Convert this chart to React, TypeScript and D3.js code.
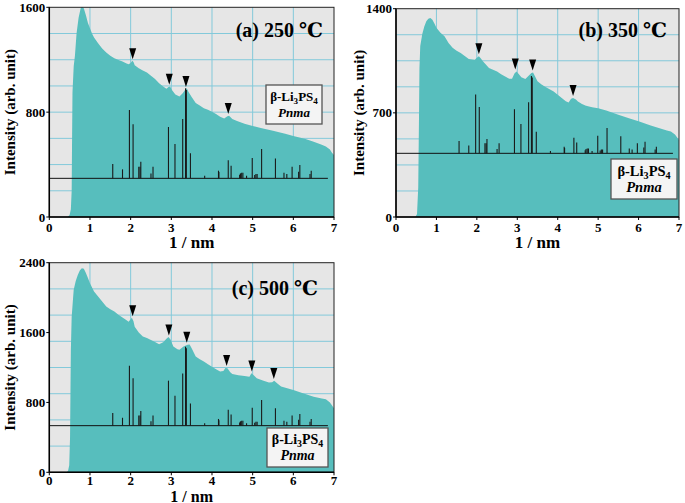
import React from 'react';
import * as d3 from 'd3';

type Pt = [number, number];

const xTicks = [0, 1, 2, 3, 4, 5, 6, 7];

const curveA: Pt[] = [[0,0],[0.45,0],[0.5,15],[0.53,60],[0.55,200],[0.56,600],[0.57,950],[0.6,1150],[0.63,1230],[0.67,1400],[0.72,1520],[0.77,1590],[0.8,1610],[0.85,1590],[0.9,1540],[0.95,1480],[1.0,1440],[1.05,1400],[1.1,1370],[1.2,1325],[1.3,1285],[1.4,1255],[1.5,1230],[1.6,1212],[1.7,1198],[1.8,1186],[1.9,1172],[1.95,1165],[2.0,1175],[2.04,1192],[2.07,1182],[2.1,1158],[2.2,1135],[2.3,1118],[2.4,1102],[2.5,1078],[2.6,1052],[2.7,1020],[2.8,996],[2.88,978],[2.93,992],[2.97,995],[3.02,968],[3.1,935],[3.2,920],[3.28,945],[3.35,975],[3.38,982],[3.42,955],[3.5,915],[3.6,870],[3.7,850],[3.8,830],[3.9,818],[4.0,804],[4.1,785],[4.2,765],[4.3,752],[4.38,768],[4.42,772],[4.5,748],[4.6,735],[4.8,712],[5.0,695],[5.2,680],[5.5,658],[5.8,635],[6.0,618],[6.3,595],[6.5,575],[6.7,552],[6.8,537],[6.9,515],[6.95,490],[7.0,473]];

const curveB: Pt[] = [[0,0],[0.48,0],[0.52,20],[0.55,200],[0.57,700],[0.58,1000],[0.6,1150],[0.65,1230],[0.7,1280],[0.75,1315],[0.8,1332],[0.85,1338],[0.9,1325],[0.95,1300],[1.0,1272],[1.1,1238],[1.2,1214],[1.3,1170],[1.4,1137],[1.5,1118],[1.6,1102],[1.7,1082],[1.8,1062],[1.9,1058],[1.95,1057],[2.0,1070],[2.05,1080],[2.1,1065],[2.15,1046],[2.3,1002],[2.4,990],[2.5,978],[2.6,960],[2.7,945],[2.8,930],[2.87,930],[2.93,965],[2.98,978],[3.03,962],[3.1,940],[3.2,928],[3.28,950],[3.35,968],[3.39,972],[3.45,940],[3.5,912],[3.6,890],[3.7,873],[3.8,858],[3.9,844],[4.0,822],[4.1,800],[4.2,778],[4.27,770],[4.33,795],[4.38,800],[4.45,790],[4.5,777],[4.6,760],[4.7,748],[4.85,738],[5.0,731],[5.2,715],[5.5,688],[5.8,660],[6.0,643],[6.3,615],[6.5,598],[6.7,582],[6.8,574],[6.9,555],[7.0,518]];

const curveC: Pt[] = [[0,0],[0.42,0],[0.46,15],[0.49,80],[0.51,400],[0.52,900],[0.53,1400],[0.55,1780],[0.6,2090],[0.65,2190],[0.7,2260],[0.75,2310],[0.8,2336],[0.85,2330],[0.9,2282],[0.95,2225],[1.0,2165],[1.1,2070],[1.2,2012],[1.3,1955],[1.4,1898],[1.5,1866],[1.6,1842],[1.7,1805],[1.8,1772],[1.9,1740],[1.95,1725],[2.0,1752],[2.03,1770],[2.07,1730],[2.1,1668],[2.2,1600],[2.3,1555],[2.4,1538],[2.5,1515],[2.6,1492],[2.7,1466],[2.8,1490],[2.88,1530],[2.93,1548],[2.98,1520],[3.05,1440],[3.15,1408],[3.2,1402],[3.3,1440],[3.4,1460],[3.45,1462],[3.5,1420],[3.6,1325],[3.7,1295],[3.8,1268],[3.9,1238],[4.0,1210],[4.1,1180],[4.2,1155],[4.28,1160],[4.33,1195],[4.38,1190],[4.45,1145],[4.5,1127],[4.65,1112],[4.8,1103],[4.92,1095],[4.97,1135],[5.02,1115],[5.1,1077],[5.25,1050],[5.4,1028],[5.48,1030],[5.53,1048],[5.6,1020],[5.7,982],[5.85,962],[6.0,943],[6.2,912],[6.5,866],[6.7,845],[6.8,836],[6.9,800],[7.0,733]];

const stickPos = [1.56,1.80,1.97,2.06,2.20,2.23,2.25,2.50,2.55,2.93,3.09,3.28,3.35,3.37,3.47,3.82,4.16,4.17,4.40,4.47,4.68,4.70,4.73,4.76,4.85,4.99,5.05,5.08,5.11,5.22,5.56,5.77,5.84,5.97,6.13,6.16,6.41,6.44];
const stickRel = [16,10,76,60,13,13,18.5,5.5,13,57,38,66,100,98,28,3,8.5,7,20,14,4,5.5,6.3,6.3,3,22.6,3.7,4.8,4.8,32.6,22,6.3,4.8,13,7.4,14.8,4.8,8.5];

const arrowsA = [2.05, 2.95, 3.36, 4.4];
const arrowsB = [2.05, 2.95, 3.38, 4.38];
const arrowsC = [2.05, 2.94, 3.38, 4.36, 4.98, 5.52];

const yTicksA = [0, 800, 1600];
const yTicksB = [0, 700, 1400];
const yTicksC = [0, 800, 1600, 2400];

const titles = ['(a) 250 ℃', '(b) 350 ℃', '(c) 500 ℃'];

const FONT = "'Liberation Serif', Tinos, 'Times New Roman', 'DejaVu Serif', serif";
const TEAL = '#57bebd';
const BG = '#e6e6e6';
const GRID = '#83c9da';

type Spec = {
  id: string; left: number; right: number; top: number; bottom: number; yMax: number;
  yTicks: number[]; curve: Pt[]; arrows: number[]; title: string; titleX: number; titleY: number;
  stickBase: number; stickMax: number; box: [number, number, number, number]; legendFont: number;
  yLabelX: number; xLabelDy: number; xTickDy: number; xLabelSize: number;
};

function interp(curve: Pt[], xv: number): number {
  const i = d3.bisector((d: Pt) => d[0]).right(curve, xv) - 1;
  if (i < 0) return curve[0][1];
  if (i >= curve.length - 1) return curve[curve.length - 1][1];
  const [x0, y0] = curve[i];
  const [x1, y1] = curve[i + 1];
  return y0 + ((xv - x0) / (x1 - x0)) * (y1 - y0);
}

const tStyle = (size: number, italic = false): React.CSSProperties => ({
  fontFamily: FONT, fontWeight: 'bold', fontSize: `${size}px`, fontStyle: italic ? 'italic' : 'normal',
});

function Panel({ s }: { s: Spec }) {
  const x = d3.scaleLinear().domain([0, 7]).range([s.left, s.right]);
  const y = d3.scaleLinear().domain([0, s.yMax]).range([s.bottom, s.top]);
  const area = d3.area<Pt>().x(d => x(d[0])).y0(y(0)).y1(d => y(d[1]));
  const gridY = d3.range(1, 8).map(i => (s.yMax * i) / 8);
  const gridX = d3.range(1, 7);
  const w = s.right - s.left;
  const h = s.bottom - s.top;
  const [bx, by, bw, bh] = s.box;
  const fs = s.legendFont;
  return (
    <g>
      <defs>
        <clipPath id={`clip-${s.id}`}>
          <rect x={s.left} y={s.top} width={w} height={h} />
        </clipPath>
      </defs>
      <rect x={s.left} y={s.top} width={w} height={h} fill={BG} />
      {gridY.map(v => (
        <line key={`gy${v}`} x1={s.left} x2={s.right} y1={y(v)} y2={y(v)} stroke={GRID} strokeWidth={1} />
      ))}
      {gridX.map(v => (
        <line key={`gx${v}`} x1={x(v)} x2={x(v)} y1={s.top} y2={s.bottom} stroke={GRID} strokeWidth={1} />
      ))}
      <path d={area(s.curve) || ''} fill={TEAL} clipPath={`url(#clip-${s.id})`} />
      <line x1={x(0)} x2={x(6.85)} y1={y(s.stickBase)} y2={y(s.stickBase)} stroke="#111" strokeWidth={1} />
      {stickPos.map((p, i) => (
        <line key={`st${i}`} x1={x(p)} x2={x(p)} y1={y(s.stickBase)}
          y2={y(s.stickBase + (stickRel[i] / 100) * s.stickMax)} stroke="#1a1a1a" strokeWidth={1.1} />
      ))}
      {s.arrows.map((a, i) => {
        const v = Math.max(interp(s.curve, a - 0.03), interp(s.curve, a), interp(s.curve, a + 0.03));
        const tx = x(a);
        const ty = y(v) - 2;
        return <path key={`ar${i}`} d={`M${tx - 3.5},${ty - 11}L${tx + 3.5},${ty - 11}L${tx},${ty}Z`} fill="#000" />;
      })}
      <rect x={s.left} y={s.top} width={w} height={h} fill="none" stroke="#222" strokeWidth={1} />
      <line x1={s.left} x2={s.left} y1={s.top} y2={s.bottom} stroke="#000" strokeWidth={1.5} />
      <line x1={s.left} x2={s.right} y1={s.bottom} y2={s.bottom} stroke="#000" strokeWidth={1.5} />
      {xTicks.map(t => (
        <g key={`xt${t}`}>
          <line x1={x(t)} x2={x(t)} y1={s.bottom} y2={s.bottom + 3} stroke="#000" strokeWidth={1} />
          <text x={x(t)} y={s.bottom + s.xTickDy} textAnchor="middle" style={tStyle(13)}>{t}</text>
        </g>
      ))}
      {s.yTicks.map(t => (
        <g key={`yt${t}`}>
          <line x1={s.left - 3} x2={s.left} y1={y(t)} y2={y(t)} stroke="#000" strokeWidth={1} />
          <text x={s.left - 4} y={y(t) + 4.5} textAnchor="end" style={tStyle(13)}>{t}</text>
        </g>
      ))}
      <text x={(s.left + s.right) / 2} y={s.bottom + s.xLabelDy} textAnchor="middle" style={tStyle(s.xLabelSize)}>1 / nm</text>
      <text transform={`translate(${s.yLabelX},${(s.top + s.bottom) / 2}) rotate(-90)`} textAnchor="middle"
        style={tStyle(15)}>Intensity (arb. unit)</text>
      <text x={s.titleX} y={s.titleY} textAnchor="end" style={tStyle(20)}>{s.title}</text>
      <rect x={bx} y={by} width={bw} height={bh} fill="#f4f4f4" stroke="#555" strokeWidth={1.3} />
      <text x={bx + bw / 2} y={by + bh * 0.42} textAnchor="middle" style={tStyle(fs)}>
        β-Li<tspan style={{ fontSize: `${fs * 0.7}px` }} dy={3}>3</tspan><tspan dy={-3}>PS</tspan><tspan style={{ fontSize: `${fs * 0.7}px` }} dy={3}>4</tspan>
      </text>
      <text x={bx + bw / 2} y={by + bh * 0.82} textAnchor="middle" style={tStyle(fs, true)}>Pnma</text>
    </g>
  );
}

const specs: Spec[] = [
  { id: 'a', left: 49.3, right: 334, top: 7.3, bottom: 217, yMax: 1600, yTicks: yTicksA, curve: curveA, arrows: arrowsA,
    title: titles[0], titleX: 323, titleY: 37, stickBase: 295, stickMax: 687, box: [266, 85, 56, 39], legendFont: 13, yLabelX: 15, xLabelDy: 31, xTickDy: 15, xLabelSize: 17 },
  { id: 'b', left: 396, right: 679, top: 8.7, bottom: 217, yMax: 1400, yTicks: yTicksB, curve: curveB, arrows: arrowsB,
    title: titles[1], titleX: 667, titleY: 37, stickBase: 428, stickMax: 520, box: [611, 159, 66, 40], legendFont: 14.5, yLabelX: 364, xLabelDy: 31, xTickDy: 15, xLabelSize: 17 },
  { id: 'c', left: 49.3, right: 334, top: 262.7, bottom: 472.3, yMax: 2400, yTicks: yTicksC, curve: curveC, arrows: arrowsC,
    title: titles[2], titleX: 318, titleY: 295, stickBase: 534, stickMax: 904, box: [267, 428, 61, 39], legendFont: 14, yLabelX: 15, xLabelDy: 29.5, xTickDy: 12.5, xLabelSize: 16 },
];

export default function App() {
  return (
    <svg width={685} height={503} style={{ position: 'absolute', left: 0, top: 0, background: '#fff' }}>
      {specs.map(s => <Panel key={s.id} s={s} />)}
    </svg>
  );
}
